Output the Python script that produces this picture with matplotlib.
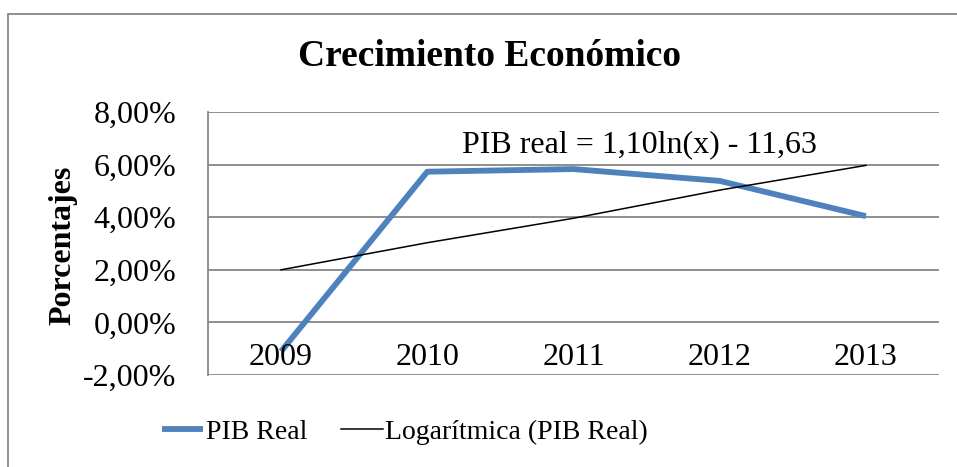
import matplotlib.pyplot as plt
import matplotlib.patches as patches
from matplotlib.ticker import FuncFormatter

# Datos
years = ['2009', '2010', '2011', '2012', '2013']
pib_real = [-1.1, 5.73, 5.83, 5.38, 4.04]
tendencia = [2.0, 3.03, 3.96, 5.03, 5.97]

plt.rcParams['font.family'] = ['Liberation Serif', 'DejaVu Serif']

fig = plt.figure(figsize=(9.57, 4.67), dpi=100)
ax = fig.add_axes([208 / 957, 1 - 375 / 467, (939 - 208) / 957, (375 - 112) / 467])

x = list(range(len(years)))
ax.plot(x, pib_real, color='#4F81BD', linewidth=4.2, label='PIB Real', solid_capstyle='butt', zorder=3)
ax.plot(x, tendencia, color='black', linewidth=1.1, label='Logarítmica (PIB Real)', zorder=4)

ax.set_xlim(-0.5, 4.5)
ax.set_ylim(-2, 8)
ax.set_yticks([-2, 0, 2, 4, 6, 8])
ax.yaxis.set_major_formatter(FuncFormatter(lambda v, p: f'{v:.2f}%'.replace('.', ',')))
ax.tick_params(axis='y', length=0, pad=23, labelsize=23)
ax.set_xticks([])
ax.grid(axis='y', color='#868686', linewidth=1.3)
ax.set_axisbelow(True)
for s in ['top', 'right', 'bottom']:
    ax.spines[s].set_visible(False)
ax.spines['left'].set_color('#868686')
ax.spines['left'].set_linewidth(1.3)

# etiquetas de categoria sobre la linea del 0
for i, y in enumerate(years):
    ax.annotate(y, (i, 0), xytext=(0, -15), textcoords='offset points',
                ha='center', va='top', fontsize=23)

ax.text(640 / 957, 1 - 145 / 467, 'PIB real = 1,10ln(x) - 11,63', transform=fig.transFigure,
        ha='center', va='center', fontsize=23)

fig.text(490 / 957, 1 - 57 / 467, 'Crecimiento Económico', ha='center', va='center',
         fontsize=27, fontweight='bold')
fig.text(63 / 957, 1 - 245 / 467, 'Porcentajes', ha='center', va='center',
         rotation=90, fontsize=23, fontweight='bold')

ax.legend(loc='center', bbox_to_anchor=(405 / 957, 1 - 432 / 467), bbox_transform=fig.transFigure,
          ncol=2, frameon=False, fontsize=20, handlelength=1.5, handletextpad=0.1,
          columnspacing=1.2)

fig.patches.append(patches.Rectangle((8 / 957, -0.1), 2, 1.1 - 14 / 467, transform=fig.transFigure,
                                     fill=False, edgecolor='#868686', linewidth=1.3))

fig.savefig('out.png', dpi=100)
